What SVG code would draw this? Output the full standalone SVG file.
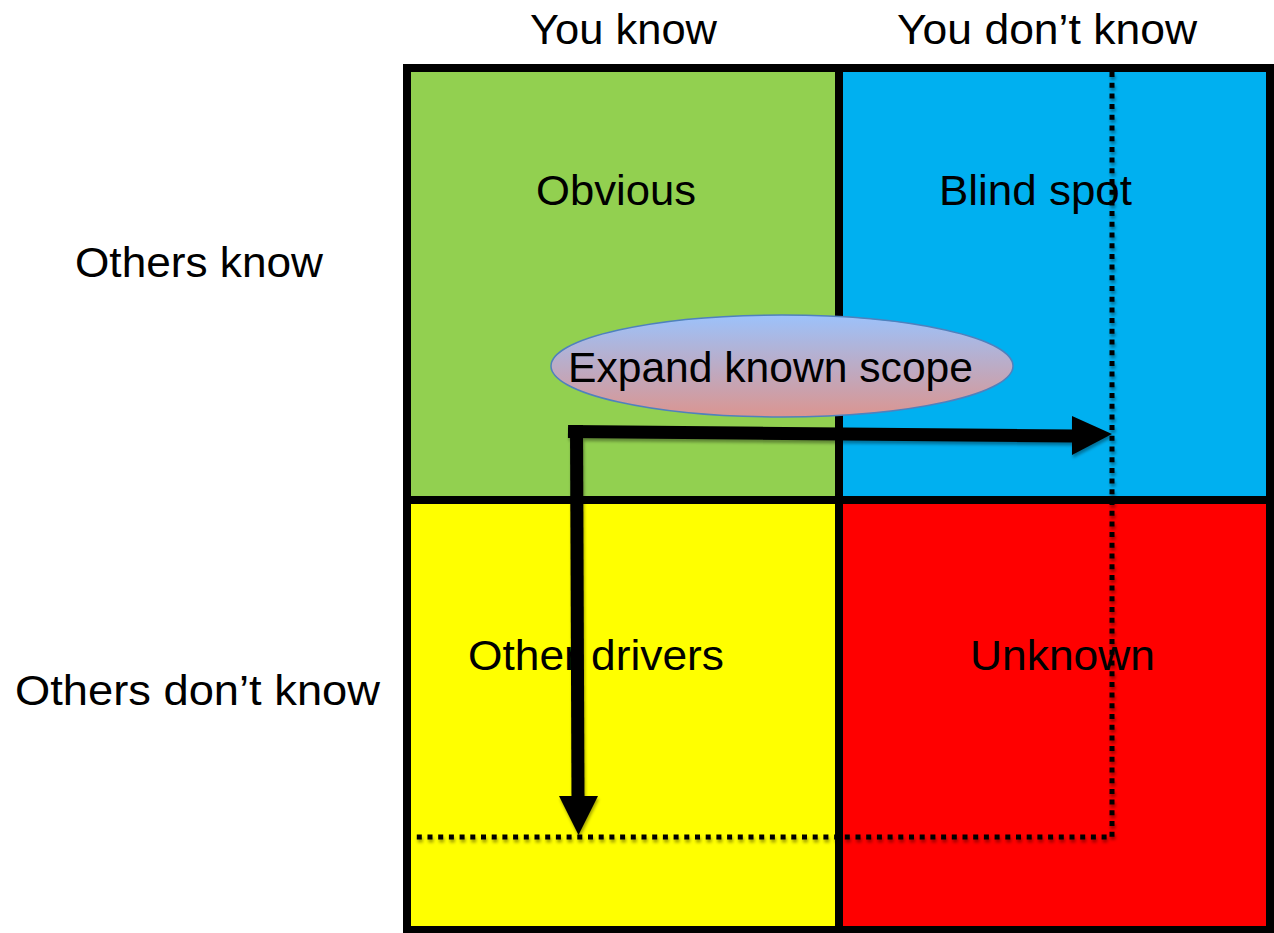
<svg xmlns="http://www.w3.org/2000/svg" width="1274" height="933" viewBox="0 0 1274 933">
  <defs>
    <linearGradient id="ellGrad" x1="0" y1="0" x2="0" y2="1">
      <stop offset="0" stop-color="#9cc2fb"/>
      <stop offset="1" stop-color="#db9590"/>
    </linearGradient>
    <filter id="shadow" x="-10%" y="-10%" width="120%" height="130%">
      <feDropShadow dx="1" dy="3" stdDeviation="1.5" flood-color="#000" flood-opacity="0.35"/>
    </filter>
  </defs>
  <style>
    text { font-family: "Liberation Sans", Arial, sans-serif; font-size: 42px; fill: #000; }
    .frame { fill: none; stroke: #000; stroke-width: 8; }
    .shaft { stroke: #000; stroke-width: 13; fill: none; }
    .head { fill: #000; stroke: none; }
    .dots { fill: none; stroke: #000; stroke-width: 5; stroke-dasharray: 5 5.7; }
  </style>

  <rect width="1274" height="933" fill="#ffffff"/>

  <g id="col-you-know"><text x="530" y="44" textLength="187" lengthAdjust="spacingAndGlyphs">You know</text></g>
  <g id="col-you-dont-know"><text x="897" y="44" textLength="300" lengthAdjust="spacingAndGlyphs">You don’t know</text></g>
  <g id="row-others-know"><text x="75" y="277" textLength="248" lengthAdjust="spacingAndGlyphs">Others know</text></g>
  <g id="row-others-dont-know"><text x="15" y="705" textLength="365" lengthAdjust="spacingAndGlyphs">Others don’t know</text></g>

  <g id="obvious">
    <rect x="407" y="68" width="432" height="432" fill="#92d050"/>
    <text x="536" y="205" textLength="160" lengthAdjust="spacingAndGlyphs">Obvious</text>
  </g>
  <g id="blind-spot">
    <rect x="839" y="68" width="431" height="432" fill="#00b0f0"/>
    <text x="939" y="205" textLength="193" lengthAdjust="spacingAndGlyphs">Blind spot</text>
  </g>
  <g id="other-drivers">
    <rect x="407" y="500" width="432" height="430" fill="#ffff00"/>
    <text x="468" y="670" textLength="256" lengthAdjust="spacingAndGlyphs">Other drivers</text>
  </g>
  <g id="unknown">
    <rect x="839" y="500" width="431" height="430" fill="#ff0000"/>
    <text x="970" y="670" textLength="185" lengthAdjust="spacingAndGlyphs">Unknown</text>
  </g>

  <g id="frame">
    <rect class="frame" x="407" y="68" width="863" height="862"/>
    <line x1="839" y1="68" x2="839" y2="930" stroke="#000" stroke-width="8"/>
    <line x1="407" y1="500" x2="1270" y2="500" stroke="#000" stroke-width="8"/>
  </g>

  <g id="expand-known-scope">
    <ellipse cx="782" cy="366" rx="231" ry="51" fill="url(#ellGrad)" stroke="#4f81bd" stroke-width="1.5"/>
    <text x="568" y="382" textLength="405" lengthAdjust="spacingAndGlyphs">Expand known scope</text>
  </g>

  <g id="connectors">
    <path class="dots" d="M1112,72 V837 H413" filter="url(#shadow)"/>
    <g filter="url(#shadow)">
      <path class="shaft" d="M568,431.5 L1076,436"/>
      <polygon class="head" points="1072,416 1112,434 1072,455"/>
      <path class="shaft" d="M576.5,425 L578,800"/>
      <polygon class="head" points="559,796 598,796 578.5,835"/>
    </g>
  </g>
</svg>
